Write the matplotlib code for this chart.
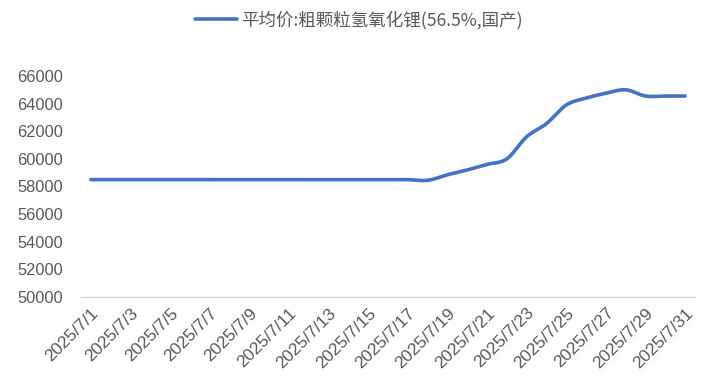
import matplotlib
matplotlib.use("Agg")
import matplotlib.pyplot as plt
import numpy as np

# Données
jours = [f"2025/7/{d}" for d in range(1, 32)]
prix = [58500] * 17 + [58450, 58850, 59200, 59600, 60000, 61600, 62550,
                       63900, 64400, 64750, 65000, 64550, 64550, 64550]
libelle_serie = "平均价:粗颗粒氢氧化锂(56.5%,国产)"
graduations_y = list(range(50000, 66001, 2000))


def lisser(x, y, n=20):
    """Courbe lissée type Excel (Catmull-Rom) passant par tous les points."""
    x = np.asarray(x, float)
    y = np.asarray(y, float)
    px = np.concatenate([[2 * x[0] - x[1]], x, [2 * x[-1] - x[-2]]])
    py = np.concatenate([[y[0]], y, [y[-1]]])
    xs, ys = [], []
    t = np.linspace(0, 1, n, endpoint=False)
    for i in range(1, len(px) - 2):
        for p, out in ((px, xs), (py, ys)):
            p0, p1, p2, p3 = p[i - 1], p[i], p[i + 1], p[i + 2]
            out.extend(0.5 * ((2 * p1) + (-p0 + p2) * t
                              + (2 * p0 - 5 * p1 + 4 * p2 - p3) * t ** 2
                              + (-p0 + 3 * p1 - 3 * p2 + p3) * t ** 3))
    xs.append(x[-1])
    ys.append(y[-1])
    return np.array(xs), np.array(ys)


plt.rcParams["font.family"] = ["Liberation Sans", "Noto Sans CJK SC", "DejaVu Sans"]

fig = plt.figure(figsize=(7.18, 3.89), dpi=100)
ax = fig.add_axes([81 / 718, 1 - 297 / 389, 614 / 718, 221 / 389])

x = np.arange(len(jours))
xs, ys = lisser(x, prix)
ax.plot(xs, ys, color="#4472C4", linewidth=2.6, solid_capstyle="round",
        label=libelle_serie)

ax.set_xlim(-0.5, len(jours) - 0.5)
ax.set_ylim(graduations_y[0], graduations_y[-1])
ax.set_yticks(graduations_y)
ax.set_yticklabels([str(v) for v in graduations_y])
ax.set_xticks(x[::2])
ax.set_xticklabels(jours[::2], rotation=45, ha="right", va="top",
                   rotation_mode="anchor")

for s in ("top", "right", "left"):
    ax.spines[s].set_visible(False)
ax.spines["bottom"].set_color("#D9D9D9")
ax.spines["bottom"].set_linewidth(1.0)
ax.tick_params(axis="both", length=0, colors="#595959")
ax.tick_params(axis="y", pad=13, labelsize=11.8)
ax.tick_params(axis="x", pad=6, labelsize=12.5)

leg = fig.legend(loc="center", bbox_to_anchor=(0.5, 1 - 20 / 389), frameon=False,
                 fontsize=12.6, handlelength=2.4, handletextpad=0.2)
for t in leg.get_texts():
    t.set_color("#595959")
    t.set_fontfamily(["Noto Sans CJK SC", "DejaVu Sans"])

fig.savefig("out.png", dpi=100)
